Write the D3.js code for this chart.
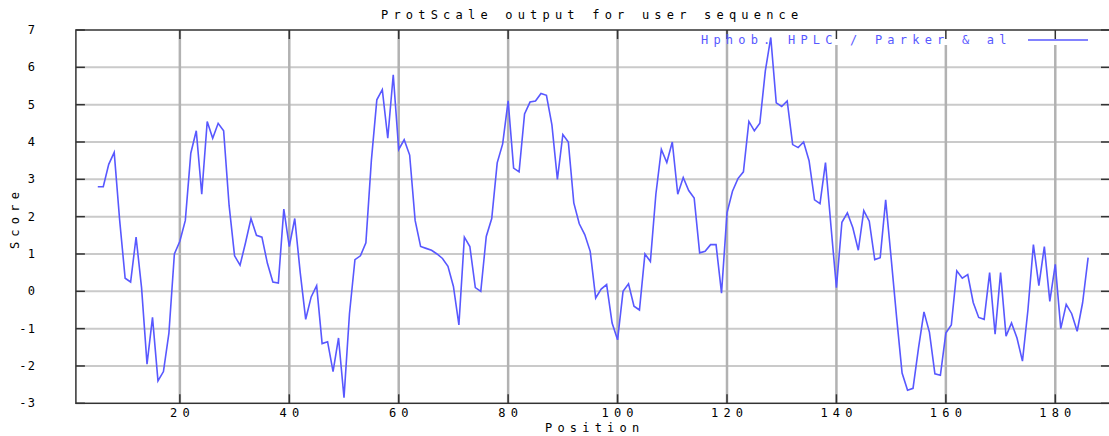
<!DOCTYPE html>
<html>
<head>
<meta charset="utf-8">
<script src="https://cdn.jsdelivr.net/npm/d3@7"></script>
<style>
  body { margin: 0; background: #ffffff; }
  text { font-family: "DejaVu Sans Mono", monospace; font-size: 12px; }
</style>
</head>
<body>
<svg id="chart" width="1109" height="436"></svg>
<script>
// Hydrophobicity profile (HPLC scale, Parker & al), window centred from position 5
const firstPosition = 5;
const scores = [
  2.8, 2.8, 3.4, 3.72, 1.9, 0.35, 0.25, 1.45, 0.1, -1.95,
  -0.7, -2.4, -2.15, -1.12, 1.0, 1.34, 1.9, 3.7, 4.3, 2.6,
  4.55, 4.1, 4.5, 4.3, 2.3, 0.95, 0.7, 1.3, 1.95, 1.5,
  1.45, 0.75, 0.25, 0.22, 2.2, 1.2, 1.95, 0.5, -0.75, -0.15,
  0.15, -1.4, -1.35, -2.15, -1.25, -2.85, -0.6, 0.85, 0.95, 1.3,
  3.5, 5.13, 5.4, 4.1, 5.8, 3.8, 4.06, 3.65, 1.9, 1.2,
  1.15, 1.1, 1.0, 0.88, 0.67, 0.13, -0.9, 1.45, 1.2, 0.1,
  0.0, 1.47, 1.95, 3.44, 3.95, 5.1, 3.3, 3.2, 4.75, 5.07,
  5.1, 5.3, 5.25, 4.46, 3.0, 4.2, 4.0, 2.37, 1.81, 1.52,
  1.07, -0.18, 0.06, 0.18, -0.85, -1.3, 0.0, 0.2, -0.4, -0.5,
  1.0, 0.8, 2.6, 3.8, 3.45, 4.0, 2.6, 3.05, 2.7, 2.5,
  1.03, 1.07, 1.25, 1.25, -0.05, 2.1, 2.68, 3.02, 3.2, 4.55,
  4.3, 4.5, 5.9, 6.8, 5.05, 4.95, 5.1, 3.93, 3.85, 4.0,
  3.5, 2.45, 2.35, 3.45, 1.75, 0.1, 1.85, 2.1, 1.7, 1.1,
  2.16, 1.88, 0.85, 0.9, 2.45, 0.89, -0.7, -2.19, -2.65, -2.6,
  -1.52, -0.55, -1.1, -2.21, -2.25, -1.12, -0.9, 0.55, 0.35, 0.45,
  -0.3, -0.7, -0.75, 0.5, -1.15, 0.5, -1.2, -0.85, -1.25, -1.87,
  -0.5, 1.25, 0.15, 1.2, -0.27, 0.72, -1.0, -0.35, -0.6, -1.07,
  -0.3, 0.9
];
const xTicks = [20, 40, 60, 80, 100, 120, 140, 160, 180];
const yTicks = [-3, -2, -1, 0, 1, 2, 3, 4, 5, 6, 7];
const xDomain = [1, 190];
const yDomain = [-3, 7];
const titleText = "ProtScale output for user sequence";
const legendText = "Hphob. HPLC / Parker & al";
const xLabel = "Position";
const yLabel = "Score";

const lineColor = "#5858ff";
const svg = d3.select("#chart");
const W = 1109, H = 436;
const plotL = 75.9, plotR = 1110, plotT = 30, plotB = 403.3;

const x = d3.scaleLinear().domain(xDomain).range([plotL, plotR]);
const y = d3.scaleLinear().domain(yDomain).range([plotB, plotT]);

svg.append("rect").attr("width", W).attr("height", H).attr("fill", "#fff");

// grid: horizontal at inner integer scores
svg.append("g").selectAll("line")
  .data(yTicks.filter(v => v > yDomain[0] && v < yDomain[1]))
  .join("line")
  .attr("x1", plotL).attr("x2", plotR)
  .attr("y1", d => y(d)).attr("y2", d => y(d))
  .attr("stroke", "#cacaca").attr("stroke-width", 2);

// grid: vertical at tick positions (key area is left clear)
const keyLeft = 736;
svg.append("g").selectAll("line")
  .data(xTicks)
  .join("line")
  .attr("x1", d => x(d)).attr("x2", d => x(d))
  .attr("y1", d => x(d) > keyLeft ? 45 : plotT).attr("y2", plotB)
  .attr("stroke", "#b2b2b2").attr("stroke-width", 2.5);

// border
svg.append("rect")
  .attr("x", plotL).attr("y", plotT)
  .attr("width", plotR - plotL).attr("height", plotB - plotT)
  .attr("fill", "none").attr("stroke", "#333").attr("stroke-width", 1.5);

// inward ticks
const tickLen = 9;
const ticks = svg.append("g").attr("stroke", "#333").attr("stroke-width", 1.5);
ticks.selectAll(".tb").data(xTicks).join("line")
  .attr("x1", d => x(d)).attr("x2", d => x(d))
  .attr("y1", plotB).attr("y2", plotB - tickLen);
ticks.selectAll(".tt").data(xTicks).join("line")
  .attr("x1", d => x(d)).attr("x2", d => x(d))
  .attr("y1", plotT).attr("y2", plotT + tickLen);
ticks.selectAll(".tl").data(yTicks).join("line")
  .attr("x1", plotL).attr("x2", plotL + tickLen)
  .attr("y1", d => y(d)).attr("y2", d => y(d));
ticks.selectAll(".tr").data(yTicks).join("line")
  .attr("x1", plotR).attr("x2", plotR - tickLen)
  .attr("y1", d => y(d)).attr("y2", d => y(d));

// tick labels
const ls = 5.2;
svg.append("g").selectAll("text").data(xTicks).join("text")
  .attr("x", d => x(d) + ls / 2).attr("y", 417)
  .attr("text-anchor", "middle").attr("letter-spacing", ls)
  .text(d => d);
const lsY = 1.2;
svg.append("g").selectAll("text").data(yTicks).join("text")
  .attr("x", 35 + lsY).attr("y", d => y(d) + 4)
  .attr("text-anchor", "end").attr("letter-spacing", lsY)
  .text(d => String(d));

// titles
svg.append("text").attr("x", 381).attr("y", 19)
  .attr("letter-spacing", ls).text(titleText);
svg.append("text").attr("x", 545).attr("y", 432)
  .attr("letter-spacing", ls).text(xLabel);
svg.append("text")
  .attr("transform", "translate(19,218) rotate(-90)")
  .attr("text-anchor", "middle").attr("letter-spacing", ls)
  .text(yLabel);

// data line
const line = d3.line()
  .x((d, i) => x(firstPosition + i))
  .y(d => y(d));
svg.append("path")
  .datum(scores)
  .attr("d", line)
  .attr("fill", "none")
  .attr("stroke", lineColor)
  .attr("stroke-width", 1.6)
  .attr("stroke-linejoin", "miter");

// key
svg.append("text").attr("x", 701).attr("y", 44)
  .attr("fill", lineColor).attr("letter-spacing", ls)
  .text(legendText);
svg.append("line")
  .attr("x1", 1028).attr("x2", 1088).attr("y1", 40).attr("y2", 40)
  .attr("stroke", lineColor).attr("stroke-width", 1.4);
</script>
</body>
</html>
